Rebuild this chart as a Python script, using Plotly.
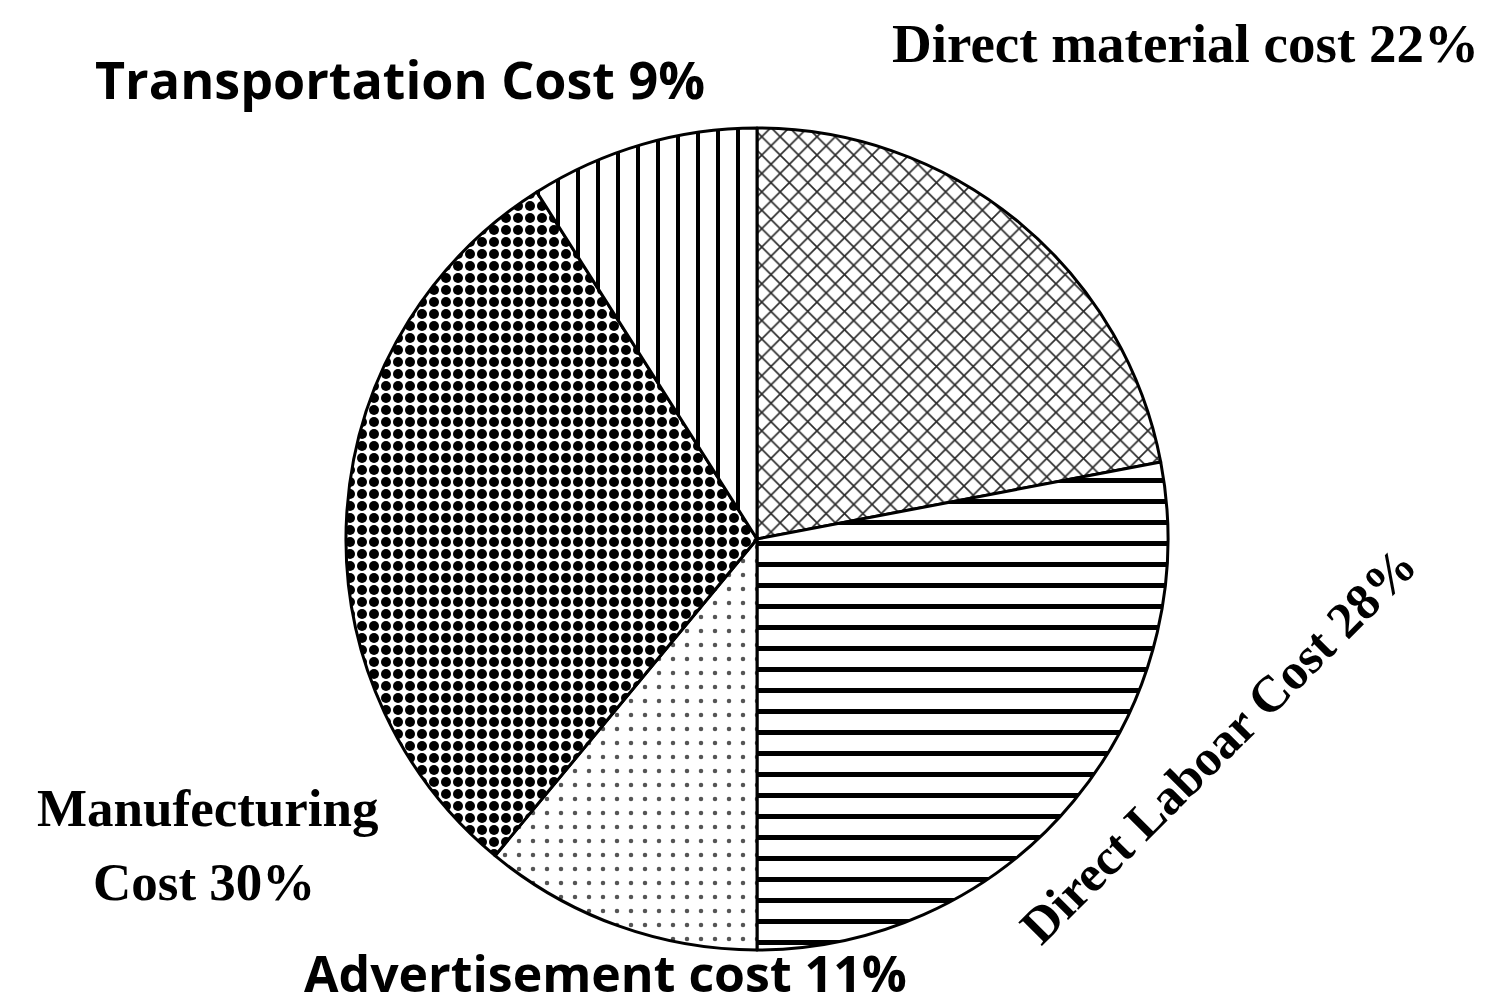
import plotly.graph_objects as go

# data
labels = ["Direct material cost", "Direct Laboar Cost", "Advertisement cost",
          "Manufecturing Cost", "Transportation Cost"]
values = [22, 28, 11, 30, 9]

W, H = 1503, 1007

# hatch per slice (black & white print look)
shapes = ["x", "-", ".", ".", "|"]
sizes = [13, 21, 14, 12, 20]
solid = [0.24, 0.24, 0.08, 0.55, 0.2]
fg = ["#2a2a2a", "black", "#555555", "black", "black"]

cx, cy, r = 749, 531, 411

fig = go.Figure()
fig.add_trace(go.Pie(
    labels=labels, values=values,
    sort=False, direction="clockwise", rotation=0,
    textinfo="none", hoverinfo="label+percent",
    marker=dict(
        colors=["white"] * 5,
        line=dict(color="black", width=3),
        pattern=dict(shape=shapes, size=sizes, solidity=solid,
                     fgcolor=fg, bgcolor="white", fgopacity=1,
                     fillmode="replace"),
    ),
    domain=dict(x=[(cx - r) / W, (cx + r) / W],
                y=[1 - (cy + r) / H, 1 - (cy - r) / H]),
    showlegend=False,
))

serif = "Liberation Serif"
sans = "Open Sans"


def px(x, y):
    return x / W, 1 - y / H


# label text, font, size, centre in pixels, angle
notes = [
    ("<b>Transportation Cost 9%</b>", sans, 52, 392, 70, 0),
    ("<b>Direct material cost 22%</b>", serif, 55, 1177, 36, 0),
    ("<b>Manufecturing</b>", serif, 53, 200, 800, 0),
    ("<b>Cost 30%</b>", serif, 53, 196, 874, 0),
    ("<b>Advertisement cost 11%</b>", sans, 50, 597, 965, 0),
    ("<b>Direct Laboar Cost 28%</b>", serif, 51, 1210, 738, -45),
]
for txt, fam, sz, x, y, ang in notes:
    ax, ay = px(x, y)
    fig.add_annotation(text=txt, x=ax, y=ay, xref="paper", yref="paper",
                       xanchor="center", yanchor="middle", showarrow=False,
                       textangle=ang, font=dict(family=fam, size=sz, color="black"))

fig.update_layout(
    width=W, height=H,
    margin=dict(l=0, r=0, t=0, b=0),
    paper_bgcolor="white", plot_bgcolor="white",
)

fig.write_html("out.html")
